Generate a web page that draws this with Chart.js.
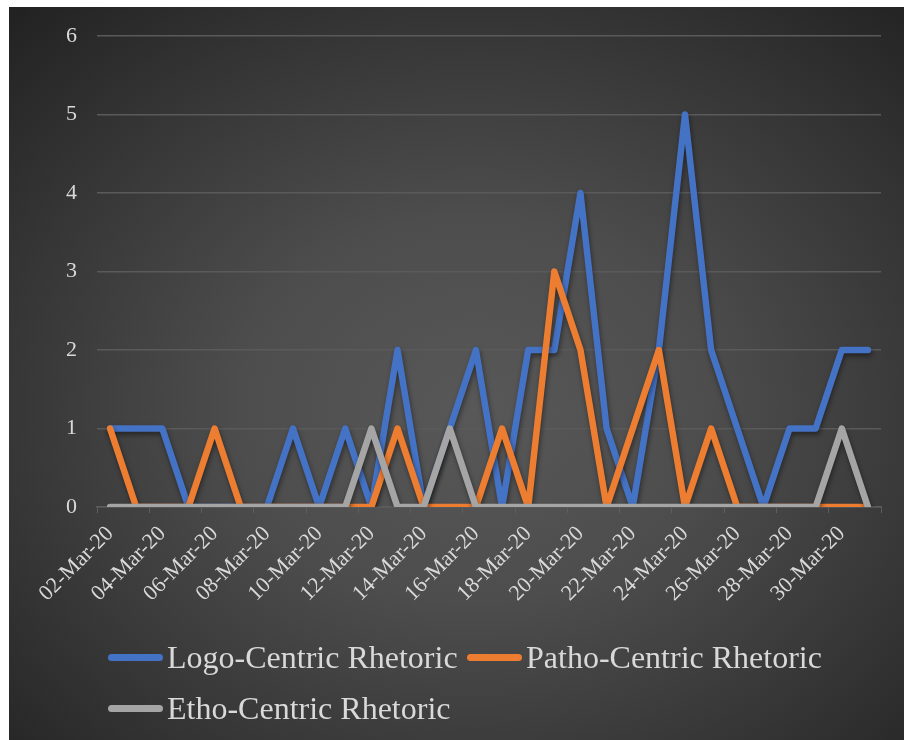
<!DOCTYPE html>
<html><head><meta charset="utf-8">
<script src="https://cdn.jsdelivr.net/npm/chart.js@4"></script>
<style>
html,body{margin:0;padding:0;background:#fff;}
#wrap{position:absolute;left:9px;top:7px;width:895px;height:733px;overflow:hidden;
 background:radial-gradient(ellipse 75% 75% at 52% 55%, #585858 0%, #4d4d4d 35%, #363636 70%, #222222 100%);}
#c{position:absolute;left:0;top:0;}
.leg{position:absolute;display:flex;align-items:center;font-family:"Liberation Serif","Times New Roman",serif;font-size:32px;color:#d9d9d9;white-space:nowrap;height:40px;}
.sw{display:inline-block;width:55px;height:7px;border-radius:4px;margin-right:4px;}
</style></head>
<body>
<div id="wrap"><canvas id="c" width="895" height="733"></canvas><div id="legend"></div></div>
<script>
const categories = ["02-Mar-20","03-Mar-20","04-Mar-20","05-Mar-20","06-Mar-20","07-Mar-20","08-Mar-20","09-Mar-20","10-Mar-20","11-Mar-20",
 "12-Mar-20","13-Mar-20","14-Mar-20","15-Mar-20","16-Mar-20","17-Mar-20","18-Mar-20","19-Mar-20","20-Mar-20","21-Mar-20",
 "22-Mar-20","23-Mar-20","24-Mar-20","25-Mar-20","26-Mar-20","27-Mar-20","28-Mar-20","29-Mar-20","30-Mar-20","31-Mar-20"];
const logoCentric  = [1,1,1,0,0,0,0,1,0,1,0,2,0,1,2,0,2,2,4,1,0,2,5,2,1,0,1,1,2,2];
const pathoCentric = [1,0,0,0,1,0,0,0,0,0,0,1,0,0,0,1,0,3,2,0,1,2,0,1,0,0,0,0,0,0];
const ethoCentric  = [0,0,0,0,0,0,0,0,0,0,1,0,0,1,0,0,0,0,0,0,0,0,0,0,0,0,0,0,1,0];
const seriesNames = ["Logo-Centric Rhetoric","Patho-Centric Rhetoric","Etho-Centric Rhetoric"];
const seriesColors = ["#4472C4","#ED7D31","#A5A5A5"];
const yTicks = [0,1,2,3,4,5,6];

const TXT = "#d9d9d9";
const FONT = "'Liberation Serif','Times New Roman',serif";

function ds(i, data, order){
  return {label: seriesNames[i], data, borderColor: seriesColors[i], backgroundColor: seriesColors[i],
    borderWidth: 6.5, pointRadius: 0, tension: 0, borderCapStyle: 'round', borderJoinStyle: 'round', order};
}

const shadow = {
  id: 'shadow',
  beforeDatasetsDraw(chart){ const c = chart.ctx; c.save(); c.shadowColor='rgba(0,0,0,0.45)'; c.shadowBlur=5; c.shadowOffsetX=1; c.shadowOffsetY=3; },
  afterDatasetsDraw(chart){ chart.ctx.restore(); }
};

const chart = new Chart(document.getElementById('c'), {
  type: 'line',
  data: { labels: categories, datasets: [ds(0, logoCentric, 3), ds(1, pathoCentric, 2), ds(2, ethoCentric, 1)] },
  options: {
    responsive: false, animation: false, devicePixelRatio: 1,
    layout: { padding: { top: 29, right: 23, bottom: 133, left: 0 } },
    plugins: { legend: { display: false }, tooltip: { enabled: false } },
    scales: {
      x: {
        type: 'category', offset: true,
        grid: { offset: true, drawOnChartArea: false, drawTicks: true, tickLength: 6,
          color: (ctx) => (ctx.index === undefined || ctx.index % 2 === 0) ? '#5e5e5e' : 'rgba(0,0,0,0)' },
        border: { display: true, color: '#5e5e5e', width: 1.5 },
        ticks: { autoSkip: false, minRotation: 45, maxRotation: 45, color: TXT, padding: 8,
          font: { family: FONT, size: 22 },
          callback: function(v, i){ return i % 2 === 0 ? categories[i] : ''; } },
        afterFit: (s) => { s.height = 100; }
      },
      y: {
        min: 0, max: 6,
        afterBuildTicks: (s) => { s.ticks = yTicks.map(v => ({value: v})); },
        grid: { color: '#5a5a5a', lineWidth: 1.5, drawTicks: true, tickLength: 16, tickColor: 'rgba(0,0,0,0)' },
        border: { display: false },
        ticks: { color: TXT, padding: 4, font: { family: FONT, size: 22 } },
        afterFit: (s) => { s.width = 88; }
      }
    }
  },
  plugins: [shadow]
});

// legend built from the chart's datasets
const legendPos = [[99, 630], [458, 630], [99, 681]];
const legEl = document.getElementById('legend');
chart.data.datasets.forEach((d, i) => {
  const item = document.createElement('div');
  item.className = 'leg';
  item.style.left = legendPos[i][0] + 'px';
  item.style.top = legendPos[i][1] + 'px';
  const sw = document.createElement('span'); sw.className = 'sw'; sw.style.background = d.borderColor;
  const t = document.createElement('span'); t.textContent = d.label;
  item.appendChild(sw); item.appendChild(t);
  legEl.appendChild(item);
});
</script>
</body></html>
